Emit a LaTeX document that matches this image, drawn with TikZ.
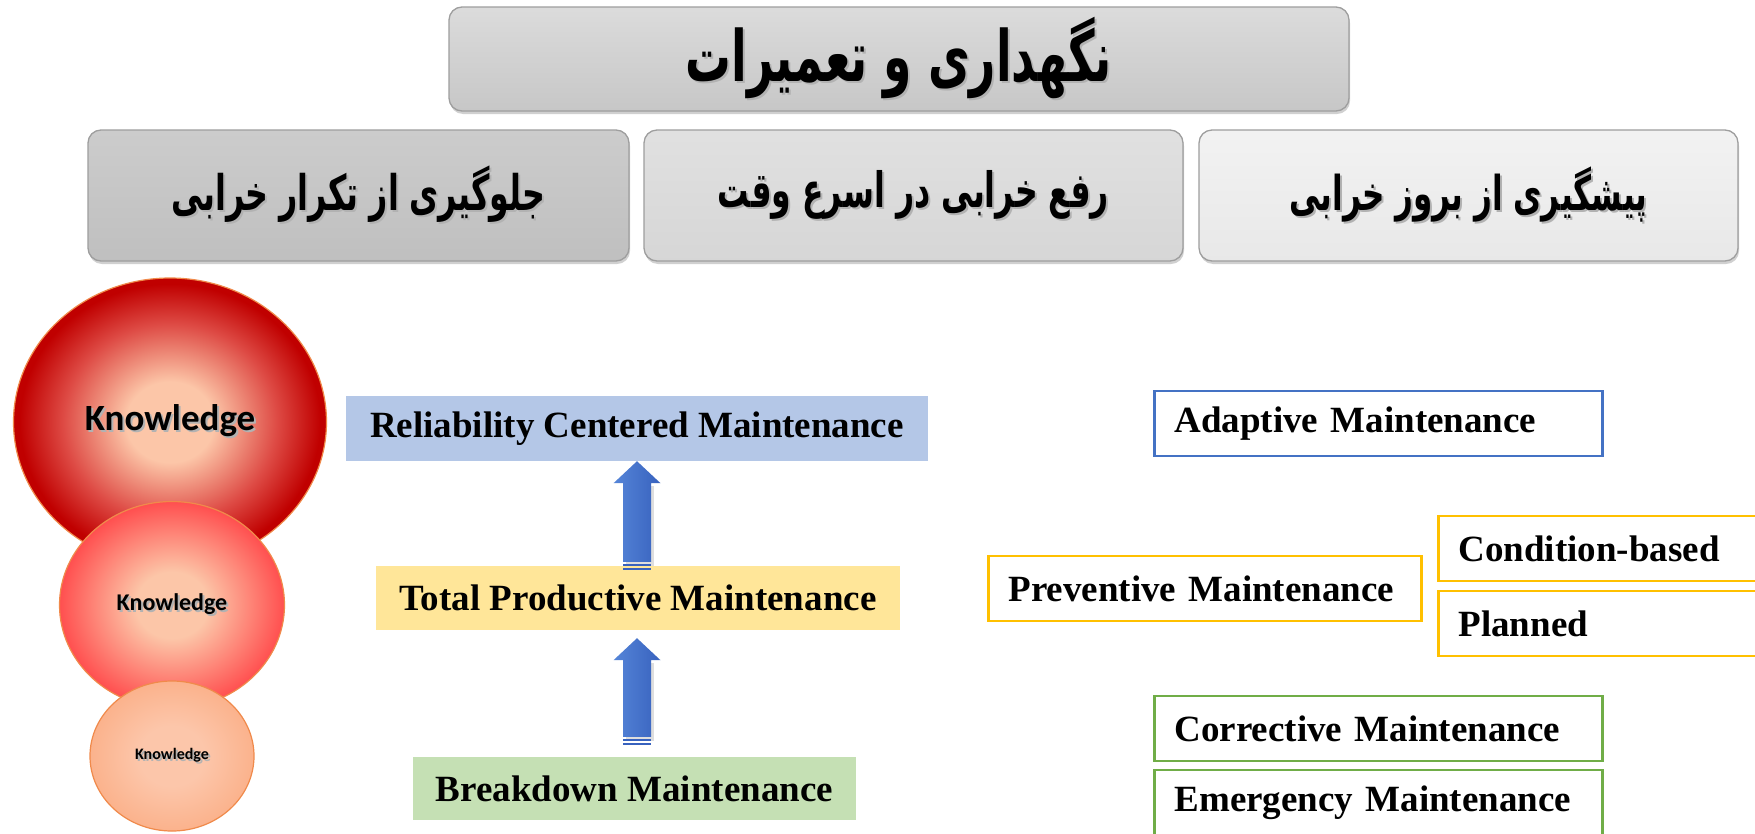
\documentclass[tikz,border=0pt]{standalone}
\usepackage{fontspec}
\usepackage{graphicx}
\setmainfont{Liberation Serif}
\newfontfamily\arabicfont[Script=Arabic]{DejaVu Sans}
\newfontfamily\knowfont{Carlito}
\TeXXeTstate=1
\usetikzlibrary{shapes.geometric,shadows,calc}

\definecolor{peach}{HTML}{FCC6A8}
\definecolor{dred}{HTML}{C00000}
\definecolor{mred}{HTML}{DE4B45}
\definecolor{lred}{HTML}{FF4F4F}
\definecolor{sorange}{HTML}{FBB28C}
\definecolor{speach}{HTML}{FCC6AA}
\definecolor{ringor}{HTML}{F08A4B}
\definecolor{arrowl}{HTML}{5585D8}
\definecolor{arrowr}{HTML}{3862BE}
\definecolor{rcmfill}{HTML}{B4C7E7}
\definecolor{tpmfill}{HTML}{FFE699}
\definecolor{bdfill}{HTML}{C5E0B4}
\definecolor{bblue}{HTML}{4472C4}
\definecolor{bgold}{HTML}{FFC000}
\definecolor{bgreen}{HTML}{70AD47}

\pgfdeclareradialshading{bigball}{\pgfpoint{0bp}{0bp}}{color(0bp)=(peach); color(7bp)=(peach); color(17bp)=(mred); color(24bp)=(dred); color(50bp)=(dred)}
\pgfdeclareradialshading{midball}{\pgfpoint{0bp}{0bp}}{color(0bp)=(peach); color(8bp)=(peach); color(25bp)=(lred); color(50bp)=(lred)}
\pgfdeclareradialshading{smallball}{\pgfpoint{0bp}{0bp}}{color(0bp)=(speach); color(10bp)=(speach); color(25bp)=(sorange); color(50bp)=(sorange)}

\newcommand\shtext[1]{\makebox[0pt][l]{\raisebox{-2pt}{\hspace{2pt}\textcolor{black!30}{#1}}}#1}
\newcommand\fatext[2]{\scalebox{1}[1.55]{\resizebox{#1}{!}{\arabicfont\bfseries #2}}}

\newcommand\fatarrow[2]{%
  \fill[black!25, opacity=0.5] let \p1=(#1), \p2=(#2) in
    (\x1-11pt,\y1+5pt) -- (\x1-11pt,\y2-25pt) -- (\x1+17pt,\y2-25pt) -- (\x1+17pt,\y1+5pt) -- cycle;
  \shade[left color=arrowl, right color=arrowr] let \p1=(#1), \p2=(#2) in
    (\x1-14pt,\y1+9pt) -- (\x1-14pt,\y2-22pt) -- (\x1-23.5pt,\y2-22pt) -- (\x1,\y2)
    -- (\x1+23.5pt,\y2-22pt) -- (\x1+14pt,\y2-22pt) -- (\x1+14pt,\y1+9pt) -- cycle;
  \fill[arrowr] let \p1=(#1) in (\x1-14pt,\y1+6.5pt) rectangle (\x1+14pt,\y1+4.5pt);
  \fill[arrowr] let \p1=(#1) in (\x1-14pt,\y1+2.5pt) rectangle (\x1+14pt,\y1+0.5pt);
}

\tikzset{
  hdrbox/.style={rectangle, rounded corners=13pt, draw=black!38, line width=1.3pt,
    minimum height=#1, inner sep=0pt,
    drop shadow={shadow xshift=1pt, shadow yshift=-3pt, opacity=0.3, fill=black!60}},
  knowball/.style={ellipse, inner sep=0pt, draw=ringor, line width=1.2pt},
  levelbox/.style={rectangle, inner sep=0pt, minimum height=64pt,
    font=\fontsize{37}{40}\selectfont\bfseries},
  typebox/.style={rectangle, draw=#1, line width=2.6pt, inner ysep=0pt, inner xsep=20pt,
    minimum height=65pt, align=left,
    font=\fontsize{37}{40}\selectfont\bfseries},
}

\begin{document}
\begin{tikzpicture}[x=1pt,y=-1pt]
\useasboundingbox (0,0) rectangle (1755,833);
\fill[white] (0,0) rectangle (1755,833);

% header boxes
\node[hdrbox=104pt, minimum width=900pt, top color=black!14, bottom color=black!22] (title) at (899,59)
  {\shtext{\fatext{426pt}{\beginR نگهداری و تعمیرات\endR}}};
\node[hdrbox=131pt, minimum width=541pt, top color=black!20, bottom color=black!25] (goalL) at (358.5,195.5)
  {\shtext{\fatext{374pt}{\beginR جلوگیری از تکرار خرابی\endR}}};
\node[hdrbox=131pt, minimum width=539pt, top color=black!12, bottom color=black!16] (goalM) at (913.5,195.5)
  {\shtext{\fatext{391pt}{\beginR رفع خرابی در اسرع وقت\endR}}};
\node[hdrbox=131pt, minimum width=539pt, top color=black!5, bottom color=black!9] (goalR) at (1468.5,195.5)
  {\shtext{\fatext{358pt}{\beginR پیشگیری از بروز خرابی\endR}}};

% knowledge circles
\node[knowball, shade, shading=bigball, minimum width=313pt, minimum height=288pt] (k1) at (170,422)
  {\knowfont\bfseries\fontsize{37}{40}\selectfont\shtext{Knowledge}};
\node[knowball, shade, shading=midball, minimum width=225pt, minimum height=207pt] (k2) at (172,605)
  {\knowfont\bfseries\fontsize{24}{26}\selectfont\shtext{Knowledge}};
\node[knowball, shade, shading=smallball, minimum width=164pt, minimum height=150pt] (k3) at (172,756)
  {\knowfont\bfseries\fontsize{16}{18}\selectfont\shtext{Knowledge}};

% maintenance levels
\node[levelbox, fill=rcmfill, minimum width=582pt, minimum height=65pt] (rcm) at (637,428.5)
  {Reliability Centered Maintenance};
\node[levelbox, fill=tpmfill, minimum width=524pt] (tpm) at (638,598)
  {Total Productive Maintenance};
\node[levelbox, fill=bdfill, minimum width=443pt, minimum height=63pt] (bd) at (634.5,788.5)
  {Breakdown Maintenance};

\fatarrow{$(rcm.south |- tpm.north)+(0,5)$}{rcm.south}
\fatarrow{$(rcm.south |- bd.north)+(0,-11)$}{$(rcm.south |- tpm.south)+(0,8)$}

% maintenance types
\node[typebox=bblue, text width=408pt] (adapt) at (1378.5,423.5) {Adaptive Maintenance};
\node[typebox=bgold, text width=393pt] (prev) at (1205,588.5) {Preventive Maintenance};
\node[typebox=bgold, text width=287pt] (cond) at (1602,548.5) {Condition-based};
\node[typebox=bgold, text width=287pt] (plan) at (1602,623.5) {Planned};
\node[typebox=bgreen, text width=408pt] (corr) at (1378.5,728.5) {Corrective Maintenance};
\node[typebox=bgreen, text width=408pt] (emer) at (1378.5,802.5) {Emergency Maintenance};
\end{tikzpicture}
\end{document}
